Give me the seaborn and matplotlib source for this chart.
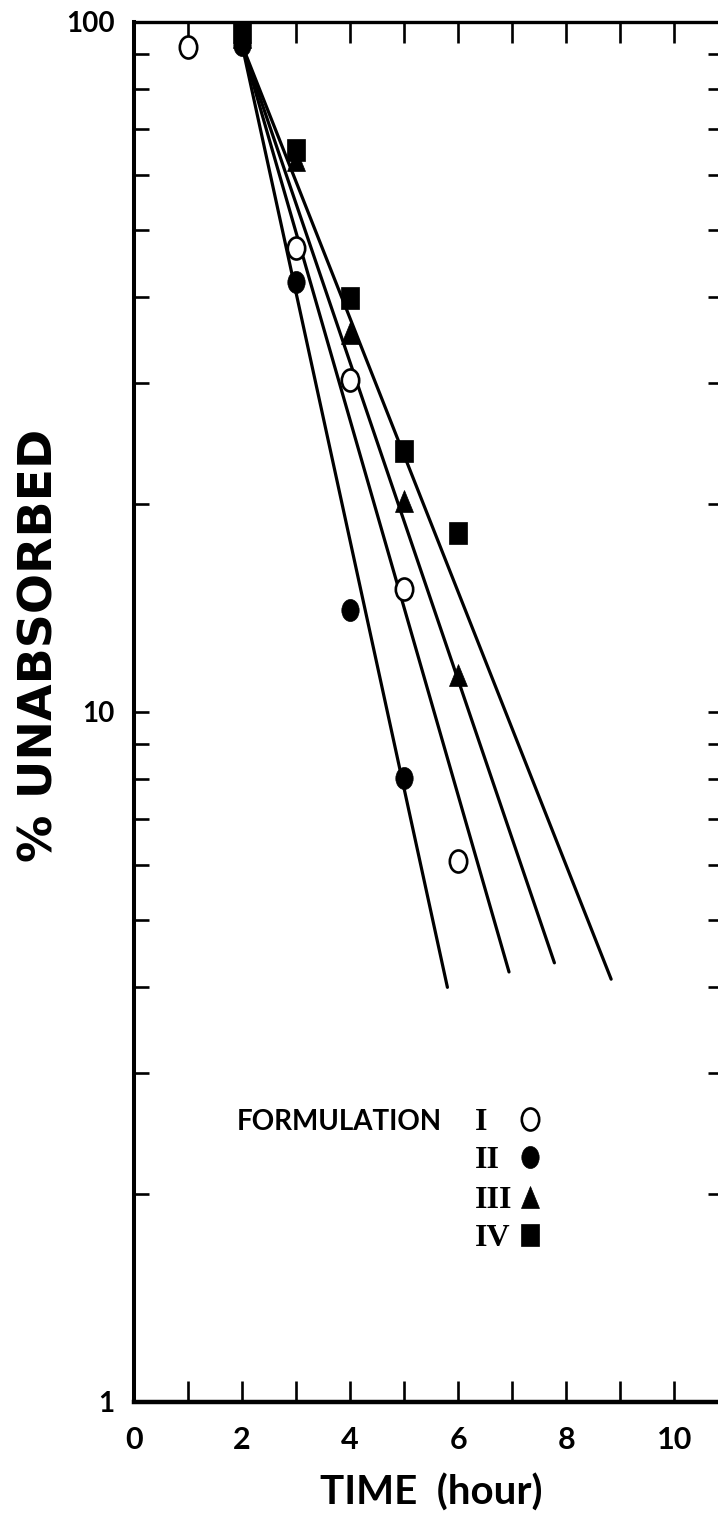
import matplotlib
matplotlib.use("Agg")
import matplotlib.pyplot as plt
import seaborn as sns
from matplotlib.markers import MarkerStyle
from matplotlib.transforms import Affine2D
from matplotlib.ticker import FixedLocator, FixedFormatter, LogLocator, NullFormatter, NullLocator

# Observed % unabsorbed for each formulation
time_I = [1, 3, 4, 5, 6]
unabs_I = [92.0, 47.0, 30.3, 15.1, 6.08]
time_II = [2, 3, 4, 5]
unabs_II = [92.6, 42.0, 14.05, 8.02]
time_III = [2, 3, 4, 5, 6]
unabs_III = [95.1, 63.1, 35.4, 20.2, 11.3]
time_IV = [2, 3, 4, 5, 6]
unabs_IV = [96.7, 65.3, 39.8, 23.9, 18.2]

# Fitted absorption lines (first and last point of each)
fit_time_I = [2.0, 6.94]
fit_unabs_I = [92.6, 4.20]
fit_time_II = [2.0, 5.80]
fit_unabs_II = [92.6, 3.99]
fit_time_III = [2.0, 7.78]
fit_unabs_III = [92.6, 4.33]
fit_time_IV = [2.0, 8.83]
fit_unabs_IV = [92.6, 4.10]

formulations = ["I", "II", "III", "IV"]
x_ticks = list(range(0, 11))
x_tick_labels = ["0", "", "2", "", "4", "", "6", "", "8", "", "10"]
y_ticks = [1, 10, 100]
y_tick_labels = ["1", "10", "100"]

sns.set_theme(style="ticks")
plt.rcParams["font.family"] = ["Lato", "DejaVu Sans"]
plt.rcParams["font.weight"] = "bold"
for key in ("text.color", "axes.labelcolor", "xtick.color", "ytick.color", "axes.edgecolor"):
    plt.rcParams[key] = "black"

W, H = 718, 1520
AX_L, AX_R, AX_T, AX_B = 134, 723, 22, 1402
fig = plt.figure(figsize=(W / 100, H / 100), dpi=100)
fig.patch.set_facecolor("white")
ax = fig.add_axes([AX_L / W, (H - AX_B) / H, (AX_R - AX_L) / W, (AX_B - AX_T) / H])
ax.set_facecolor("white")


def fx(px):
    return (px - AX_L) / (AX_R - AX_L)


def fy(py):
    return (AX_B - py) / (AX_B - AX_T)


def tall(m):
    # symbols on the sheet are slightly taller than wide
    return MarkerStyle(m, transform=Affine2D().scale(1.0, 1.27))


styles = {
    "I": dict(marker=tall("o"), mfc="white", mew=1.9),
    "II": dict(marker=tall("o"), mfc="black", mew=0.5),
    "III": dict(marker=tall("^"), mfc="black", mew=0.5),
    "IV": dict(marker=tall("s"), mfc="black", mew=0.5),
}
fits = {
    "I": (fit_time_I, fit_unabs_I),
    "II": (fit_time_II, fit_unabs_II),
    "III": (fit_time_III, fit_unabs_III),
    "IV": (fit_time_IV, fit_unabs_IV),
}
obs = {
    "I": (time_I, unabs_I),
    "II": (time_II, unabs_II),
    "III": (time_III, unabs_III),
    "IV": (time_IV, unabs_IV),
}

for f in formulations:
    tx, ty = fits[f]
    sns.lineplot(x=tx, y=ty, color="black", lw=2.3, ax=ax, errorbar=None,
                 sort=False, zorder=2)

for f in formulations:
    ox, oy = obs[f]
    st = styles[f]
    sns.lineplot(x=ox, y=oy, color="black", linestyle="", ax=ax, errorbar=None,
                 sort=False, marker=st["marker"], markersize=12.5,
                 markerfacecolor=st["mfc"], markeredgecolor="black",
                 markeredgewidth=st["mew"], zorder=3, clip_on=False)

ax.set_yscale("log")
ax.set_xlim(0, 10.9)
ax.set_ylim(1, 100)

ax.xaxis.set_major_locator(FixedLocator(x_ticks))
ax.xaxis.set_major_formatter(FixedFormatter(x_tick_labels))
ax.xaxis.set_minor_locator(NullLocator())
ax.yaxis.set_major_locator(FixedLocator(y_ticks))
ax.yaxis.set_major_formatter(FixedFormatter(y_tick_labels))
ax.yaxis.set_minor_locator(LogLocator(base=10, subs=range(2, 10)))
ax.yaxis.set_minor_formatter(NullFormatter())

ax.tick_params(axis="x", which="both", direction="in", length=15, width=1.9,
               top=True, labelsize=22, pad=17, colors="black")
ax.tick_params(axis="y", which="both", direction="in", length=11, width=1.9,
               right=True, labelsize=20, pad=14, colors="black")
for lab in ax.get_xticklabels() + ax.get_yticklabels():
    lab.set_fontweight("bold")

for name, sp in ax.spines.items():
    sp.set_color("black")
    sp.set_linewidth(2.4)
ax.spines["left"].set_linewidth(2.9)
ax.spines["bottom"].set_linewidth(3.2)

ax.set_xlabel("TIME  (hour)", fontsize=29, fontweight="bold", color="black")
ax.xaxis.set_label_coords(fx(431), fy(1474))
ax.set_ylabel("% UNABSORBED", fontsize=34, fontweight="bold", color="black",
              fontfamily=["DejaVu Sans"])
ax.yaxis.set_label_coords(fx(63), fy(645))

# Key: roman numeral followed by its symbol
key_rows = [1119, 1157, 1197, 1235]
for f, row in zip(formulations, key_rows):
    ax.text(fx(475), fy(row), f, transform=ax.transAxes, ha="left",
            va="center_baseline", fontsize=23, fontweight="bold",
            fontfamily=["Liberation Serif", "DejaVu Serif"], color="black")
    st = styles[f]
    ax.plot([fx(530)], [fy(row)], transform=ax.transAxes, linestyle="",
            marker=st["marker"], markersize=12.5, markerfacecolor=st["mfc"],
            markeredgecolor="black", markeredgewidth=st["mew"], clip_on=False)
ax.text(fx(442), fy(key_rows[0]), "FORMULATION", transform=ax.transAxes,
        ha="right", va="center_baseline", fontsize=20, fontweight="bold",
        color="black")

fig.savefig("out.png", dpi=100)
